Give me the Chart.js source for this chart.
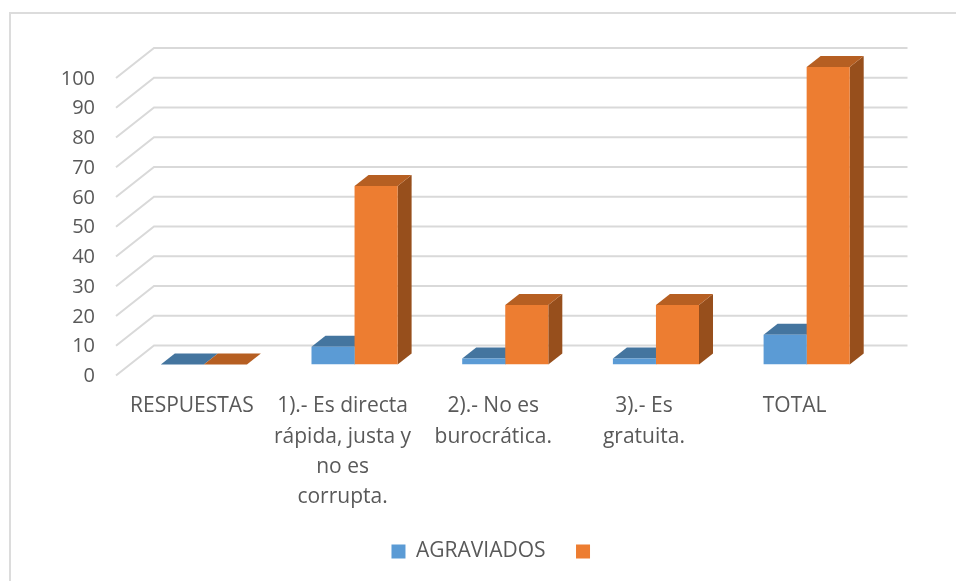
<!DOCTYPE html>
<html lang="es">
<head>
    <meta charset="UTF-8">
    <title>Agraviados</title>
    <script src="https://cdn.jsdelivr.net/npm/chart.js@4"></script>
    <style>
        html, body { margin: 0; padding: 0; background: #fff; overflow: hidden; }
        /* marco del grafico: solo se ve arriba y a la izquierda */
        .marco { position: absolute; left: 9px; top: 12px; width: 960px; height: 600px; border: 2px solid #dcdcdc; }
        .lienzo { position: absolute; left: 48px; top: 0; width: 894px; height: 581px; }
    </style>
</head>
<body>
    <div class="marco"></div>
    <div class="lienzo"><canvas id="grafico"></canvas></div>

    <script>
        const categorias = [
            'RESPUESTAS',
            ['1).- Es directa', 'rápida, justa y', 'no es', 'corrupta.'],
            ['2).- No es', 'burocrática.'],
            ['3).- Es', 'gratuita.'],
            'TOTAL'
        ];
        const agraviados = [0, 6, 2, 2, 10];
        const serie2 = [0, 60, 20, 20, 100];
        const marcasY = [0, 10, 20, 30, 40, 50, 60, 70, 80, 90, 100];

        const azul = '#5b9bd5', azulTapa = '#44759f';
        const naranja = '#ed7d31', naranjaTapa = '#b65f22', naranjaLado = '#974f1c';

        // fondo en perspectiva: las barras estan en un plano intermedio
        const barraDx = 14, barraDy = -11;
        const paredDx = 12.5;
        const fondoDx = 25.5, fondoDy = -19;

        const falso3d = {
            id: 'falso3d',
            afterLayout(chart) {
                // la leyenda va centrada respecto al marco, no al area del canvas
                chart.legend.left += 31;
                chart.legend.right += 31;
            },
            beforeDatasetsDraw(chart) {
                const ctx = chart.ctx;
                const { x: ejeX, y: ejeY } = chart.scales;
                ctx.save();

                // rejilla: diagonal en la pared izquierda + linea en el fondo
                ctx.strokeStyle = '#d9d9d9';
                ctx.lineWidth = 2;
                marcasY.forEach(v => {
                    const py = ejeY.getPixelForValue(v);
                    ctx.beginPath();
                    ctx.moveTo(ejeX.left - paredDx, py - barraDy);
                    ctx.lineTo(ejeX.left + fondoDx, py + fondoDy);
                    ctx.lineTo(ejeX.right + fondoDx, py + fondoDy);
                    ctx.stroke();
                });

                // caras superior y lateral de cada barra
                const colores = [[azulTapa, azulTapa], [naranjaTapa, naranjaLado]];
                chart.data.datasets.forEach((ds, i) => {
                    chart.getDatasetMeta(i).data.forEach(bar => {
                        const izq = bar.x - bar.width / 2, der = bar.x + bar.width / 2;
                        const arriba = bar.y, abajo = bar.base;
                        ctx.fillStyle = colores[i][1];
                        ctx.beginPath();
                        ctx.moveTo(der, arriba);
                        ctx.lineTo(der + barraDx, arriba + barraDy);
                        ctx.lineTo(der + barraDx, abajo + barraDy);
                        ctx.lineTo(der, abajo);
                        ctx.closePath();
                        ctx.fill();

                        ctx.fillStyle = colores[i][0];
                        ctx.beginPath();
                        ctx.moveTo(izq, arriba);
                        ctx.lineTo(izq + barraDx, arriba + barraDy);
                        ctx.lineTo(der + barraDx, arriba + barraDy);
                        ctx.lineTo(der, arriba);
                        ctx.closePath();
                        ctx.fill();
                    });
                });
                ctx.restore();
            }
        };

        window.onload = function() {
            const ctx = document.getElementById('grafico').getContext('2d');
            new Chart(ctx, {
                type: 'bar',
                data: {
                    labels: categorias,
                    datasets: [
                        { label: 'AGRAVIADOS', data: agraviados, backgroundColor: azul },
                        { label: '', data: serie2, backgroundColor: naranja }
                    ]
                },
                options: {
                    responsive: true,
                    maintainAspectRatio: false,
                    animation: false,
                    categoryPercentage: 0.5714,
                    barPercentage: 1,
                    layout: { padding: { left: 0, right: 60, top: 67, bottom: 9 } },
                    plugins: {
                        tooltip: { enabled: false },
                        legend: {
                            position: 'bottom',
                            labels: {
                                boxWidth: 14,
                                boxHeight: 14,
                                padding: 30.5,
                                color: '#595959',
                                font: { family: '"Open Sans"', size: 21 }
                            }
                        }
                    },
                    scales: {
                        x: {
                            grid: { display: false },
                            border: { display: false },
                            afterFit(scale) { scale.height = 146; },
                            ticks: {
                                maxRotation: 0,
                                autoSkip: false,
                                padding: 19,
                                labelOffset: -12,
                                color: '#595959',
                                font: { family: '"Open Sans"', size: 21, lineHeight: 1.43 }
                            }
                        },
                        y: {
                            min: 0,
                            max: 100,
                            grid: { display: false },
                            border: { display: false },
                            afterFit(scale) { scale.width = 80.5; },
                            afterBuildTicks(scale) { scale.ticks = marcasY.map(v => ({ value: v })); },
                            ticks: {
                                padding: 25.5,
                                labelOffset: 12,
                                color: '#595959',
                                font: { family: '"Open Sans"', size: 20 }
                            }
                        }
                    }
                },
                plugins: [falso3d]
            });
        };
    </script>
</body>
</html>
